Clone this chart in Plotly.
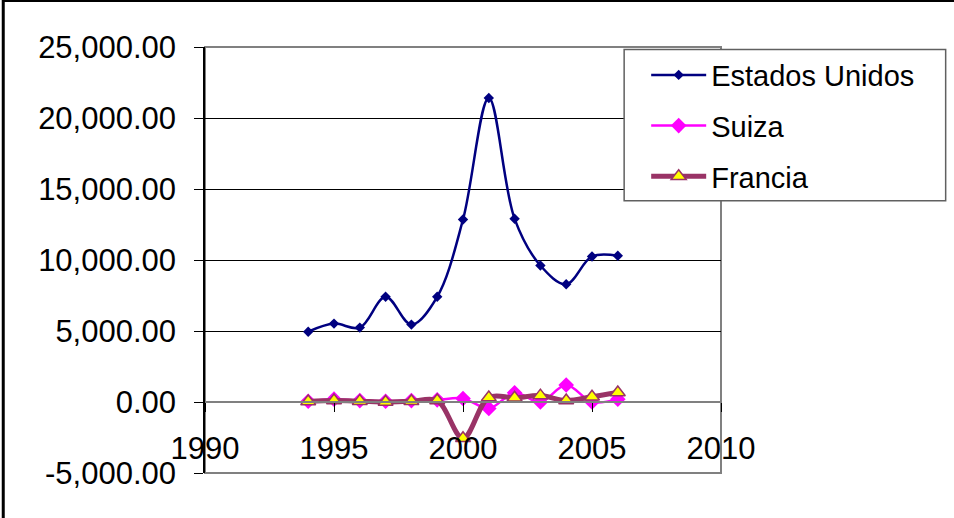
import plotly.graph_objects as go

# data
years = [1994, 1995, 1996, 1997, 1998, 1999, 2000, 2001, 2002, 2003, 2004, 2005, 2006]
estados_unidos = [4950, 5520, 5240, 7410, 5450, 7410, 12850, 21410, 12900, 9610, 8290, 10250, 10300]
suiza = [50, 200, 100, 50, 100, 150, 250, -450, 650, 0, 1200, 0, 200]
francia = [30, 100, 60, 0, 50, 100, -2550, 320, 300, 450, 100, 370, 670]

y_ticks = [-5000, 0, 5000, 10000, 15000, 20000, 25000]
x_ticks = [1990, 1995, 2000, 2005, 2010]

FONT = "Liberation Sans, Arial, sans-serif"

fig = go.Figure()

fig.add_trace(go.Scatter(
    x=years, y=estados_unidos, name="Estados Unidos", legendgroup="a",
    mode="lines+markers", line=dict(color="#000080", width=2.5, shape="spline"),
    marker=dict(symbol="diamond", size=8, color="#000080"),
))
fig.add_trace(go.Scatter(
    x=years, y=suiza, name="Suiza", legendgroup="b",
    mode="lines+markers", line=dict(color="#FF00FF", width=2.5, shape="spline"),
    marker=dict(symbol="diamond", size=12, color="#FF00FF"),
))
fig.add_trace(go.Scatter(
    x=years, y=francia, name="Francia", legendgroup="c",
    mode="lines+markers", line=dict(color="#993366", width=5, shape="spline"),
    marker=dict(symbol="triangle-up", size=13, color="#FFFF00",
                line=dict(color="#993366", width=1.5)),
))

fig.update_layout(
    width=954, height=518,
    margin=dict(l=205, r=233, t=47, b=45),
    paper_bgcolor="white", plot_bgcolor="white",
    font=dict(family=FONT, color="black"),
    showlegend=True,
    legend=dict(
        x=0.855, y=0.994, xanchor="left", yanchor="top",
        bgcolor="rgba(0,0,0,0)", borderwidth=0,
        font=dict(size=29, family=FONT, color="black"),
        tracegroupgap=10, itemwidth=55,
    ),
    xaxis=dict(
        range=[1990, 2010], tickvals=x_ticks, ticktext=[str(v) for v in x_ticks],
        anchor="free", position=1/6, showgrid=False, zeroline=False,
        showline=True, linecolor="#808080", linewidth=2,
        ticks="outside", ticklen=9, tickcolor="black", tickwidth=1,
        ticklabelstandoff=10,
        tickfont=dict(size=31, family=FONT, color="black"),
    ),
    yaxis=dict(
        range=[-5000, 25000], tickvals=y_ticks,
        ticktext=[f"{v:,.2f}" for v in y_ticks],
        showgrid=True, gridcolor="black", gridwidth=1, zeroline=False,
        showline=True, linecolor="black", linewidth=1.5,
        ticks="outside", ticklen=9, tickcolor="black", tickwidth=1,
        ticklabelstandoff=12,
        tickfont=dict(size=31, family=FONT, color="black"),
    ),
    shapes=[
        # gray plot area frame
        dict(type="rect", xref="paper", yref="paper", x0=0, x1=1, y0=0, y1=1,
             line=dict(color="#808080", width=2), layer="below"),
        # legend box
        dict(type="rect", xref="paper", yref="paper", x0=0.8123, x1=1.4354, y0=0.639, y1=0.9941,
             fillcolor="white", line=dict(color="#606060", width=1.5), layer="above"),
        # outer chart border
        dict(type="rect", xref="paper", yref="paper", x0=-0.391, x1=1.5, y0=-0.3, y1=1.109,
             line=dict(color="black", width=3)),
    ],
)

fig.write_html("out.html", config={"displayModeBar": False},
               post_script="document.body.style.margin='0';")
